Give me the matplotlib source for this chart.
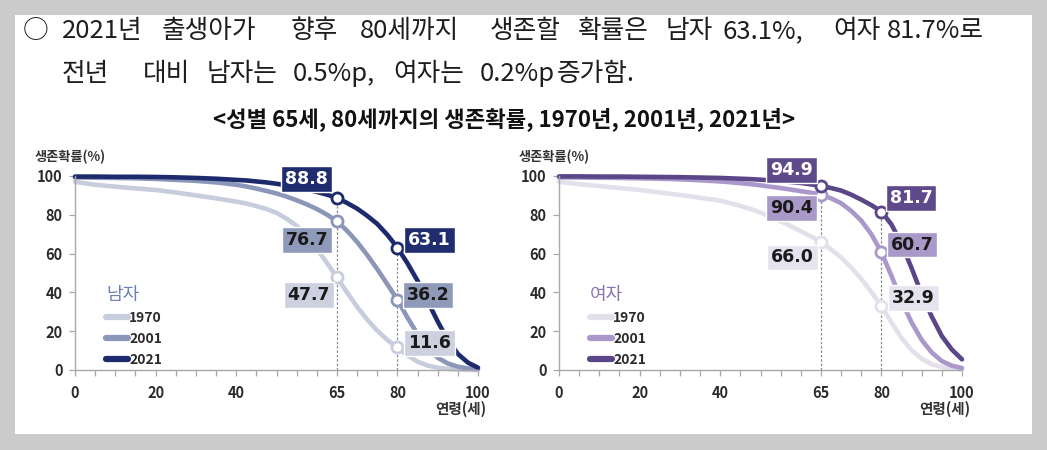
import numpy as np
import matplotlib
matplotlib.use("Agg")
import matplotlib.pyplot as plt
from matplotlib.lines import Line2D
from matplotlib.patches import Rectangle

plt.rcParams['font.family'] = ['Noto Sans CJK KR', 'DejaVu Sans']

# ages (years) and survival probability (%)
ages = [0, 5, 10, 15, 20, 25, 30, 35, 40, 42.5, 45, 47.5, 50, 52.5, 55, 57.5, 60, 62.5, 65,
        67.5, 70, 72.5, 75, 77.5, 80, 82.5, 85, 87.5, 90, 92.5, 95, 97.5, 100]

male_1970 = [97.0, 95.5, 94.5, 93.6, 92.8, 91.5, 90.0, 88.5, 86.8, 85.8, 84.5, 83.0, 81.0, 78.0, 74.3,
             69.0, 62.5, 55.3, 47.7, 40.0, 32.6, 26.0, 20.3, 15.5, 11.6, 7.5, 4.3, 2.3, 1.2, 0.6, 0.3, 0.1, 0.0]
male_2001 = [99.3, 99.1, 99.0, 98.8, 98.5, 98.0, 97.5, 96.7, 95.5, 94.6, 93.5, 92.3, 91.0, 89.4, 87.5,
             85.4, 83.0, 80.1, 76.7, 71.8, 66.0, 59.3, 52.0, 44.2, 36.2, 27.0, 18.5, 11.5, 6.3, 3.4, 1.7, 0.8, 0.4]
male_2021 = [99.7, 99.7, 99.6, 99.6, 99.5, 99.3, 99.0, 98.6, 98.0, 97.7, 97.2, 96.7, 96.0, 95.2, 94.2,
             93.1, 91.8, 90.4, 88.8, 86.1, 83.2, 79.5, 75.3, 69.7, 63.1, 55.0, 46.0, 35.5, 25.0, 15.5, 8.3, 3.8, 1.2]

female_1970 = [97.0, 95.8, 94.8, 93.8, 92.8, 91.5, 90.2, 88.8, 87.3, 86.0, 84.6, 83.0, 81.2, 79.0, 76.6,
               74.2, 71.5, 68.9, 66.0, 62.2, 58.0, 52.8, 47.0, 40.3, 32.9, 24.5, 16.5, 10.2, 5.8, 3.0, 1.5, 0.7, 0.3]
female_2001 = [99.3, 99.2, 99.1, 99.0, 98.8, 98.6, 98.3, 97.8, 97.2, 96.8, 96.3, 95.8, 95.2, 94.5, 93.8,
               93.0, 92.2, 91.4, 90.4, 88.5, 86.0, 82.0, 77.0, 70.0, 60.7, 48.5, 35.5, 24.5, 15.5, 9.0, 4.6, 2.2, 1.0]
female_2021 = [99.8, 99.8, 99.7, 99.7, 99.6, 99.5, 99.4, 99.2, 99.0, 98.8, 98.6, 98.4, 98.1, 97.8, 97.4,
               96.9, 96.4, 95.7, 94.9, 93.8, 92.5, 90.4, 87.8, 85.0, 81.7, 75.0, 65.0, 52.5, 39.0, 27.5, 17.5, 10.5, 5.5]

years = ['1970', '2001', '2021']
x_labels = {0: '0', 20: '20', 40: '40', 65: '65', 80: '80', 100: '100'}

male_colors = ['#c8cddd', '#8c96b8', '#1d2b6e']
male_box_colors = ['#ccd0df', '#8f99ba', '#1f2d6f']
female_colors = ['#e3e0ec', '#a998c9', '#5b4688']
female_box_colors = ['#e6e3ee', '#a999c9', '#5e4a8a']
text_colors = ['#1a1a1a', '#1a1a1a', 'white']

# label box centres (age, %) for [65 labels, 80 labels] per series
male_label_pos = [[(58, 38.7), (88, 14)], [(57.5, 67), (87.6, 38.7)], [(57.5, 98.5), (88, 67)]]
female_label_pos = [[(58, 58), (88, 37)], [(57.7, 83.6), (87.6, 64.6)], [(57.7, 103), (87.4, 88.7)]]

W, H = 1047, 450
fig = plt.figure(figsize=(W / 100, H / 100), dpi=100)
fig.patch.set_facecolor('#cbcbcb')
fig.patches.append(Rectangle((15 / W, 1 - 434 / H), (1032 - 15) / W, (434 - 15) / H,
                             transform=fig.transFigure, facecolor='white', edgecolor='none', zorder=-5))

# header text, placed word by word to mimic the justified line
line1 = [(23, '○'), (62, '2021년'), (162, '출생아가'), (291, '향후'), (360, '80세까지'),
         (490, '생존할'), (578, '확률은'), (666, '남자'), (722, '63.1%,'), (833, '여자'), (887, '81.7%로')]
line2 = [(62, '전년'), (143, '대비'), (207, '남자는'), (293, '0.5%p,'), (393, '여자는'), (480, '0.2%p'), (557, '증가함.')]
for x, w in line1:
    fig.text(x / W, 1 - 31 / H, w, fontsize=18.5, color='#1e1e1e', ha='left', va='center')
for x, w in line2:
    fig.text(x / W, 1 - 74 / H, w, fontsize=18.5, color='#1e1e1e', ha='left', va='center')
fig.text(504 / W, 1 - 119 / H, '<성별 65세, 80세까지의 생존확률, 1970년, 2001년, 2021년>',
         fontsize=16, fontweight='bold', color='#111111', ha='center', va='center')


def draw_panel(left_px, series, colors, box_colors, label_pos, sex, sex_color):
    ax = fig.add_axes([left_px / W, (H - 370) / H, 403 / W, 194 / H])
    ax.set_facecolor('none')
    ax.set_xlim(0, 100)
    ax.set_ylim(0, 100)
    for side in ['top', 'right']:
        ax.spines[side].set_visible(False)
    for side in ['left', 'bottom']:
        ax.spines[side].set_color('#a8a8a8')
        ax.spines[side].set_linewidth(1)

    # dotted guides at 65 and 80 up to the top curve
    top = series[-1]
    for a in (65, 80):
        ax.vlines(a, 0, top[ages.index(a)], colors='#8c8c8c', linestyles=(0, (2, 1.5)), lw=0.9, zorder=1)

    for s, c in zip(series, colors):
        ax.plot(ages, s, color=c, lw=3.3, solid_capstyle='round', solid_joinstyle='round',
                clip_on=False, zorder=2)
        ax.plot([65, 80], [s[ages.index(65)], s[ages.index(80)]], 'o', ms=8,
                mfc='white', mec=c, mew=2, zorder=3, clip_on=False)

    for s, bc, tc, pos in zip(series, box_colors, text_colors, label_pos):
        for a, (px, py) in zip((65, 80), pos):
            ax.text(px, py, f'{s[ages.index(a)]:.1f}', fontsize=12.5, fontweight='bold', color=tc,
                    ha='center', va='center', family='DejaVu Sans', zorder=5, clip_on=False,
                    bbox=dict(boxstyle='square,pad=0.22', fc=bc, ec='white', lw=1))

    ax.set_yticks(range(0, 101, 20))
    ax.set_xticks(range(0, 101, 5))
    ax.set_xticklabels([x_labels.get(t, '') for t in range(0, 101, 5)])
    ax.tick_params(axis='both', direction='out', length=4, width=0.9, color='#a8a8a8',
                   labelsize=10.5, labelcolor='#2a2a2a')
    ax.tick_params(axis='x', pad=7)
    ax.tick_params(axis='y', pad=5)
    for lab in ax.get_xticklabels() + ax.get_yticklabels():
        lab.set_fontweight('bold')

    ax.text(-0.1, 1.1, '생존확률(%)', transform=ax.transAxes, fontsize=9.5, fontweight='bold',
            color='#333333', ha='left', va='center')
    ax.text(1.02, -0.2, '연령(세)', transform=ax.transAxes, fontsize=10.5, fontweight='bold',
            color='#333333', ha='right', va='center')

    handles = [Line2D([], [], color=c, lw=4.5, solid_capstyle='round') for c in colors]
    leg = ax.legend(handles, years, title=sex, loc='upper left', bbox_to_anchor=(0.06, 0.47),
                    frameon=False, borderpad=0, handlelength=1.6, handletextpad=0.05,
                    labelspacing=0.5, alignment='left',
                    prop={'weight': 'bold', 'size': 10},
                    title_fontproperties={'size': 13})
    leg.get_title().set_color(sex_color)
    for t in leg.get_texts():
        t.set_color('#2a2a2a')
    return ax


draw_panel(75, [male_1970, male_2001, male_2021], male_colors, male_box_colors,
           male_label_pos, '남자', '#6e80b9')
draw_panel(559, [female_1970, female_2001, female_2021], female_colors, female_box_colors,
           female_label_pos, '여자', '#8b73b3')

fig.savefig('out.png', dpi=100, facecolor=fig.get_facecolor())
